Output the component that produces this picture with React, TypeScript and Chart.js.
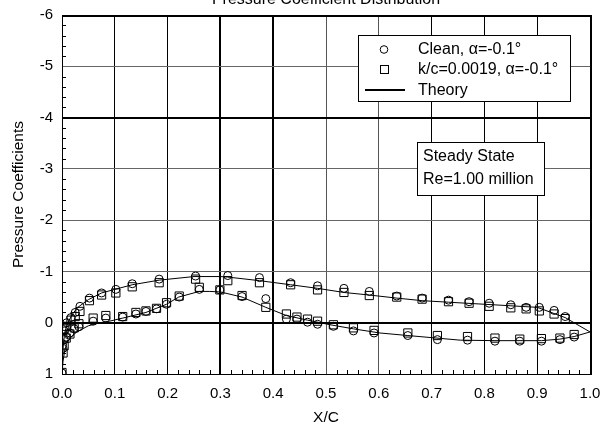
import React, { useEffect, useRef } from "react";
import { Chart, registerables } from "chart.js";
Chart.register(...registerables);

const FONT = "'Liberation Sans', Arial, Helvetica, sans-serif";

// Pressure tap locations (x/c)
const upperX = [0.0, 0.004, 0.009, 0.017, 0.025, 0.034, 0.052, 0.075, 0.102, 0.133, 0.184, 0.253, 0.314, 0.374, 0.433, 0.484, 0.534, 0.582, 0.634, 0.682, 0.732, 0.771, 0.809, 0.85, 0.879, 0.904, 0.932, 0.953];
const lowerX = [0.002, 0.004, 0.008, 0.015, 0.023, 0.032, 0.059, 0.083, 0.115, 0.14, 0.159, 0.179, 0.198, 0.222, 0.26, 0.299, 0.341, 0.386, 0.425, 0.445, 0.465, 0.484, 0.514, 0.552, 0.591, 0.655, 0.711, 0.768, 0.82, 0.867, 0.908, 0.943, 0.97];

// Clean, alpha = -0.1
const cleanUpperCp = [0.98, 0.16, 0.0, -0.1, -0.2, -0.32, -0.48, -0.58, -0.65, -0.76, -0.85, -0.91, -0.92, -0.88, -0.78, -0.72, -0.67, -0.61, -0.52, -0.48, -0.44, -0.41, -0.38, -0.35, -0.3, -0.3, -0.24, -0.12];
const cleanLowerCp = [0.5, 0.33, 0.28, 0.2, 0.12, 0.08, -0.03, -0.09, -0.11, -0.17, -0.22, -0.27, -0.36, -0.5, -0.65, -0.64, -0.51, -0.47, -0.07, -0.07, -0.01, 0.03, 0.07, 0.16, 0.2, 0.25, 0.33, 0.34, 0.36, 0.36, 0.36, 0.33, 0.28];

// k/c = 0.0019, alpha = -0.1
const roughUpperCp = [0.97, 0.12, 0.07, -0.05, -0.12, -0.22, -0.43, -0.54, -0.58, -0.7, -0.78, -0.85, -0.82, -0.78, -0.74, -0.64, -0.59, -0.53, -0.5, -0.46, -0.41, -0.38, -0.32, -0.29, -0.27, -0.23, -0.17, -0.08];
const roughLowerCp = [0.59, 0.45, 0.3, 0.22, 0.1, 0.02, -0.09, -0.14, -0.12, -0.2, -0.23, -0.28, -0.39, -0.52, -0.69, -0.64, -0.53, -0.3, -0.17, -0.11, -0.07, -0.03, 0.04, 0.1, 0.15, 0.2, 0.25, 0.27, 0.3, 0.32, 0.31, 0.3, 0.23];

// Theory
const theoryUpperX = [0, 0.002, 0.005, 0.01, 0.02, 0.03, 0.05, 0.075, 0.1, 0.133, 0.184, 0.25, 0.3, 0.314, 0.374, 0.433, 0.484, 0.534, 0.582, 0.634, 0.682, 0.732, 0.8, 0.85, 0.9, 0.953, 1.0];
const theoryUpperCp = [1.0, 0.5, 0.2, 0.02, -0.17, -0.3, -0.45, -0.58, -0.65, -0.74, -0.83, -0.9, -0.9, -0.89, -0.82, -0.74, -0.67, -0.59, -0.54, -0.48, -0.43, -0.4, -0.36, -0.33, -0.3, -0.1, 0.18];
const theoryLowerX = [0, 0.002, 0.005, 0.009, 0.017, 0.028, 0.05, 0.072, 0.09, 0.115, 0.159, 0.198, 0.221, 0.26, 0.28, 0.3, 0.341, 0.386, 0.425, 0.465, 0.508, 0.552, 0.602, 0.655, 0.71, 0.754, 0.82, 0.908, 0.943, 0.97, 1.0];
const theoryLowerCp = [1.0, 0.75, 0.55, 0.4, 0.28, 0.18, 0.06, 0.0, -0.03, -0.09, -0.2, -0.36, -0.5, -0.61, -0.61, -0.6, -0.5, -0.3, -0.14, -0.05, 0.04, 0.12, 0.2, 0.25, 0.3, 0.34, 0.35, 0.35, 0.32, 0.27, 0.18];

const legendLabels = ["Clean, \u03b1=-0.1\u00b0", "k/c=0.0019, \u03b1=-0.1\u00b0", "Theory"];
const noteLines = ["Steady State", "Re=1.00 million"];
const titleText = "Pressure Coefficient Distribution";

const pts = (xs: number[], ys: number[]) => xs.map((x, i) => ({ x, y: ys[i] }));

export default function App() {
  const ref = useRef<HTMLCanvasElement>(null);
  useEffect(() => {
    if (!ref.current) return;
    const overlay = {
      id: "overlay",
      afterDraw(chart: any) {
        const { ctx, chartArea: a, scales } = chart;
        const xs = scales.x;
        const ys = scales.y;
        ctx.save();
        ctx.strokeStyle = "#000";
        ctx.lineWidth = 1;
        // minor ticks
        ctx.beginPath();
        for (let i = 1; i < 35; i++) {
          if (i % 5 === 0) continue;
          const py = Math.round(ys.getPixelForValue(-6 + i * 0.2)) + 0.5;
          ctx.moveTo(a.left, py);
          ctx.lineTo(a.left + 4, py);
        }
        for (let i = 1; i < 50; i++) {
          if (i % 5 === 0) continue;
          const px = Math.round(xs.getPixelForValue(i * 0.02)) + 0.5;
          ctx.moveTo(px, a.bottom);
          ctx.lineTo(px, a.bottom - 4);
        }
        ctx.stroke();
        // border
        ctx.strokeRect(Math.round(a.left) + 0.5, Math.round(a.top) + 0.5, Math.round(a.right - a.left), Math.round(a.bottom - a.top));
        ctx.lineWidth = 2;
        ctx.beginPath();
        ctx.moveTo(Math.round(a.left), Math.round(a.top) + 1);
        ctx.lineTo(Math.round(a.right) + 1, Math.round(a.top) + 1);
        ctx.lineTo(Math.round(a.right) + 1, Math.round(a.bottom) + 1);
        ctx.stroke();
        // title (cut off at the top of the picture)
        ctx.fillStyle = "#000";
        ctx.font = `16px ${FONT}`;
        ctx.textAlign = "center";
        ctx.textBaseline = "alphabetic";
        ctx.fillText(titleText, (a.left + a.right) / 2, 4);
        // legend box
        ctx.lineWidth = 1;
        ctx.fillStyle = "#fff";
        ctx.fillRect(358, 35, 212, 66);
        ctx.strokeRect(358.5, 35.5, 212, 66);
        ctx.beginPath();
        ctx.arc(384, 49.5, 3.8, 0, Math.PI * 2);
        ctx.stroke();
        ctx.strokeRect(380.5, 65.5, 8, 8);
        ctx.lineWidth = 2;
        ctx.beginPath();
        ctx.moveTo(365, 90);
        ctx.lineTo(405, 90);
        ctx.stroke();
        ctx.fillStyle = "#000";
        ctx.textAlign = "left";
        ctx.textBaseline = "middle";
        ctx.font = `16px ${FONT}`;
        ctx.fillText(legendLabels[0], 418, 49.5);
        ctx.fillText(legendLabels[1], 418, 69.5);
        ctx.fillText(legendLabels[2], 418, 90.5);
        // note box
        ctx.lineWidth = 1;
        ctx.fillStyle = "#fff";
        ctx.fillRect(417, 142, 127, 53);
        ctx.strokeRect(417.5, 142.5, 127, 53);
        ctx.fillStyle = "#000";
        ctx.fillText(noteLines[0], 423, 157);
        ctx.fillText(noteLines[1], 423, 180);
        ctx.restore();
      },
    };

    const xGridW = (c: any) => {
      const v = Math.round((c.tick?.value ?? 0) * 10);
      return v === 3 || v === 4 ? 2 : 1;
    };
    const xGridC = (c: any) => {
      const v = Math.round((c.tick?.value ?? 0) * 10);
      return v === 5 || v === 6 ? "#555" : "#000";
    };
    const yGridW = (c: any) => {
      const v = Math.round(c.tick?.value ?? 0);
      return v === 0 || v === -4 ? 2 : 1;
    };
    const yGridC = (c: any) => {
      const v = Math.round(c.tick?.value ?? 0);
      return v === 0 || v === -4 ? "#000" : "#666";
    };

    const chart = new Chart(ref.current, {
      type: "scatter",
      data: {
        datasets: [
          {
            label: "Theory upper",
            data: pts(theoryUpperX, theoryUpperCp),
            showLine: true,
            borderColor: "#000",
            borderWidth: 1,
            pointRadius: 0,
            tension: 0,
          },
          {
            label: "Theory lower",
            data: pts(theoryLowerX, theoryLowerCp),
            showLine: true,
            borderColor: "#000",
            borderWidth: 1,
            pointRadius: 0,
            tension: 0,
          },
          {
            label: legendLabels[0],
            data: [...pts(upperX, cleanUpperCp), ...pts(lowerX, cleanLowerCp)],
            pointStyle: "circle",
            pointRadius: 4,
            borderColor: "#000",
            borderWidth: 1,
            backgroundColor: "rgba(0,0,0,0)",
          },
          {
            label: legendLabels[1],
            data: [...pts(upperX, roughUpperCp), ...pts(lowerX, roughLowerCp)],
            pointStyle: "rect",
            pointRadius: 5.8,
            borderColor: "#000",
            borderWidth: 1,
            backgroundColor: "rgba(0,0,0,0)",
          },
        ],
      },
      options: {
        responsive: false,
        animation: false,
        layout: { padding: { top: 15, right: 11, left: 0, bottom: 0 } },
        plugins: { legend: { display: false }, tooltip: { enabled: false }, title: { display: false } },
        scales: {
          x: {
            type: "linear",
            min: 0,
            max: 1,
            ticks: {
              stepSize: 0.1,
              callback: (v: any) => Number(v).toFixed(1),
              font: { size: 15, family: FONT },
              color: "#000",
              padding: 11,
              maxRotation: 0,
            },
            grid: { drawTicks: false, color: xGridC, lineWidth: xGridW },
            border: { display: false },
            title: { display: true, text: "X/C", font: { size: 15.5, family: FONT }, color: "#000", padding: { top: 0, bottom: -2 } },
            afterFit: (s: any) => {
              s.height = 51;
              s.paddingLeft = 0;
              s.paddingRight = 0;
            },
          },
          y: {
            type: "linear",
            min: -6,
            max: 1,
            reverse: true,
            ticks: { stepSize: 1, font: { size: 15, family: FONT }, color: "#000", padding: 9 },
            grid: { drawTicks: false, color: yGridC, lineWidth: yGridW },
            border: { display: false },
            title: {
              display: true,
              text: "Pressure Coefficients",
              font: { size: 15.5, family: FONT },
              color: "#000",
              padding: { top: 9, bottom: 0 },
            },
            afterFit: (s: any) => {
              s.width = 62;
              s.paddingTop = 0;
              s.paddingBottom = 0;
            },
          },
        },
      },
      plugins: [overlay],
    } as any);
    return () => chart.destroy();
  }, []);

  return (
    <div style={{ position: "fixed", left: 0, top: 0, width: 601, height: 425, background: "#fff" }}>
      <canvas ref={ref} width={601} height={425} style={{ display: "block" }} />
    </div>
  );
}
